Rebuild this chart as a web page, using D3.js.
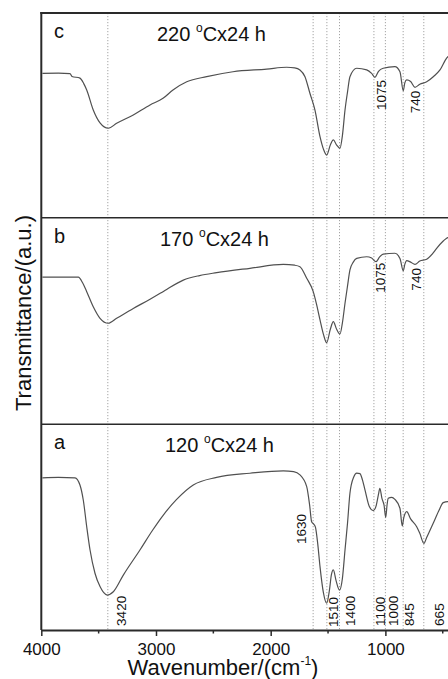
<!DOCTYPE html>
<html>
<head>
<meta charset="utf-8">
<script src="https://cdn.jsdelivr.net/npm/d3@7"></script>
<style>
  html, body { margin: 0; padding: 0; background: #fff; overflow: hidden; }
  svg { display: block; font-family: Arial, "Liberation Sans", sans-serif; }
</style>
</head>
<body>
<div id="chart-area"></div>
<script>
// spectra: [wavenumber, transmittance in % of panel height]
const spectrumA = [
  [3990, 74.0], [3850, 74.2], [3706, 74.0], [3663, 70.5], [3634, 63.2], [3604, 50.2],
  [3575, 38.9], [3532, 27.6], [3488, 21.1], [3425, 17.0], [3372, 18.6], [3285, 26.7],
  [3140, 38.9], [3030, 48.5], [2936, 55.9], [2820, 63.5], [2675, 70.5], [2471, 74.2],
  [2181, 76.2], [1890, 77.4], [1800, 77.0], [1745, 75.4], [1686, 69.7], [1660, 60.5],
  [1643, 52.6], [1625, 51.5], [1610, 50.0], [1590, 42.0], [1570, 30.8], [1540, 18.0],
  [1512, 13.0], [1490, 18.5], [1470, 27.0], [1454, 29.2], [1430, 24.0], [1400, 19.4],
  [1375, 25.0], [1352, 38.9], [1330, 52.0], [1309, 66.5], [1275, 74.5], [1250, 76.3],
  [1222, 76.0], [1200, 73.0], [1178, 68.1], [1140, 60.0], [1106, 58.0], [1080, 60.5],
  [1060, 66.0], [1048, 68.9], [1030, 64.0], [1012, 60.8], [997, 54.8], [985, 61.0],
  [975, 64.0], [945, 64.5], [917, 63.5], [873, 59.2], [853, 50.6], [840, 54.5],
  [814, 57.5], [780, 54.0], [727, 50.2], [700, 47.0], [664, 42.1], [640, 45.0],
  [583, 51.9], [530, 58.5], [496, 61.9], [455, 62.4], [400, 61.5]
];

const spectrumB = [
  [3990, 71.2], [3800, 71.2], [3677, 71.2], [3640, 68.5], [3604, 64.2], [3547, 56.9],
  [3488, 51.3], [3416, 48.9], [3343, 51.3], [3198, 56.1], [3052, 60.5], [2960, 63.5],
  [2907, 65.3], [2762, 69.8], [2620, 72.0], [2471, 73.4], [2181, 75.5], [1890, 77.4],
  [1790, 77.0], [1745, 76.3], [1686, 70.7], [1629, 64.2], [1600, 58.0], [1570, 50.5],
  [1540, 43.5], [1512, 39.5], [1480, 46.0], [1454, 49.7], [1425, 46.0], [1396, 43.7],
  [1375, 49.0], [1352, 58.6], [1330, 67.0], [1309, 74.7], [1280, 78.5], [1250, 80.3],
  [1163, 81.1], [1120, 80.5], [1082, 78.7], [1050, 81.0], [1019, 82.4], [917, 82.8],
  [873, 80.3], [844, 74.3], [830, 77.5], [814, 79.2], [780, 78.5], [742, 77.4],
  [700, 79.0], [640, 79.9], [590, 82.5], [553, 85.2], [500, 88.5], [466, 90.0], [400, 92.0]
];

const spectrumC = [
  [3990, 70.5], [3850, 70.6], [3750, 70.4], [3732, 69.0], [3663, 68.2], [3630, 65.5],
  [3604, 62.4], [3547, 52.6], [3488, 46.3], [3416, 43.7], [3343, 46.1], [3198, 50.2],
  [3052, 55.1], [2939, 58.3], [2852, 62.4], [2732, 66.4], [2558, 68.9], [2329, 71.3],
  [2035, 72.6], [1861, 73.5], [1790, 73.2], [1745, 72.2], [1701, 68.9], [1658, 60.8],
  [1614, 52.6], [1570, 39.6], [1540, 33.5], [1512, 30.6], [1480, 35.5], [1454, 38.0],
  [1425, 35.5], [1396, 33.9], [1375, 40.0], [1352, 52.6], [1330, 61.5], [1309, 68.9],
  [1250, 73.0], [1163, 72.2], [1120, 70.5], [1091, 68.6], [1060, 71.5], [1019, 73.0],
  [917, 73.8], [873, 71.3], [844, 62.0], [830, 66.0], [814, 67.3], [780, 66.5],
  [742, 63.7], [700, 65.2], [640, 66.4], [580, 69.0], [524, 72.2], [466, 78.0], [400, 80.5]
];

const panelLetters = ['a', 'b', 'c'];
const panelTemps = ['120', '170', '220'];

// dotted reference lines (cm-1)
const bandLines = [3420, 1630, 1510, 1400, 1100, 1000, 845, 665];

// band labels: text, panel, wavenumber of label centre, transmittance at label start
const bandLabels = [
  {text: '3420', panel: 0, wn: 3299, t: 2},
  {text: '1630', panel: 0, wn: 1736, t: 41.8},
  {text: '1510', panel: 0, wn: 1457, t: 1.5},
  {text: '1400', panel: 0, wn: 1309, t: 2},
  {text: '1100', panel: 0, wn: 1047, t: 2},
  {text: '1000', panel: 0, wn: 934, t: 2},
  {text: '845', panel: 0, wn: 790, t: 2},
  {text: '665', panel: 0, wn: 533, t: 2},
  {text: '1075', panel: 1, wn: 1043, t: 63.7},
  {text: '740', panel: 1, wn: 733, t: 64.7},
  {text: '1075', panel: 2, wn: 1038, t: 52.6},
  {text: '740', panel: 2, wn: 742, t: 51.0}
];

const majorTicks = [4000, 3000, 2000, 1000];
const minorTicks = [3500, 2500, 1500, 500];

const W = 448, H = 679;
const plotLeft = 41.3, plotRight = 454.2;
const panelEdges = [630, 424.3, 217.7, 13]; // bottom of a, a/b, b/c, top of c
const titleStart = [165, 160, 157];
const frameColor = '#2a2a2a';

const svg = d3.select('#chart-area').append('svg')
  .attr('width', W)
  .attr('height', H);

const x = d3.scaleLinear()
  .domain([4000, 400])
  .range([plotLeft, plotRight]);

const panelY = panelLetters.map((p, i) => d3.scaleLinear()
  .domain([0, 100])
  .range([panelEdges[i], panelEdges[i + 1]]));

// dotted band lines through all panels
svg.append('g').selectAll('line')
  .data(bandLines)
  .join('line')
  .attr('x1', d => x(d))
  .attr('x2', d => x(d))
  .attr('y1', panelEdges[3])
  .attr('y2', panelEdges[0])
  .attr('stroke', '#9a9a9a')
  .attr('stroke-width', 0.9)
  .attr('stroke-dasharray', '1.2,1.8');

// spectra
const spectra = [spectrumA, spectrumB, spectrumC];
spectra.forEach((spec, i) => {
  const line = d3.line()
    .x(d => x(d[0]))
    .y(d => panelY[i](d[1]))
    .curve(d3.curveMonotoneX);

  svg.append('path')
    .datum(spec)
    .attr('d', line)
    .attr('fill', 'none')
    .attr('stroke', '#505050')
    .attr('stroke-width', 1.2);
});

// frame
svg.append('line')
  .attr('x1', plotLeft).attr('x2', plotLeft)
  .attr('y1', panelEdges[3] - 1).attr('y2', panelEdges[0])
  .attr('stroke', frameColor).attr('stroke-width', 2);

svg.append('line')
  .attr('x1', plotLeft - 1).attr('x2', plotRight)
  .attr('y1', panelEdges[3]).attr('y2', panelEdges[3])
  .attr('stroke', frameColor).attr('stroke-width', 2);

[panelEdges[1], panelEdges[2]].forEach(yy => {
  svg.append('line')
    .attr('x1', plotLeft).attr('x2', plotRight)
    .attr('y1', yy).attr('y2', yy)
    .attr('stroke', frameColor).attr('stroke-width', 1.6);
});

// x axis
const xAxisGroup = svg.append('g')
  .attr('transform', `translate(0, ${panelEdges[0]})`);

xAxisGroup.call(d3.axisBottom(x)
  .tickValues(majorTicks)
  .tickSize(6)
  .tickSizeOuter(0)
  .tickPadding(7)
  .tickFormat(d3.format('d')));

xAxisGroup.select('.domain')
  .attr('stroke', frameColor)
  .attr('stroke-width', 2);
xAxisGroup.selectAll('.tick line')
  .attr('stroke', frameColor)
  .attr('stroke-width', 1.5);
xAxisGroup.selectAll('.tick text')
  .attr('font-family', 'Arial, "Liberation Sans", sans-serif')
  .attr('font-size', 17)
  .attr('fill', '#111');

xAxisGroup.selectAll('.minor')
  .data(minorTicks)
  .join('line')
  .attr('class', 'minor')
  .attr('x1', d => x(d))
  .attr('x2', d => x(d))
  .attr('y1', 0)
  .attr('y2', 3.5)
  .attr('stroke', frameColor)
  .attr('stroke-width', 1.5);

// band labels
svg.append('g').selectAll('text')
  .data(bandLabels)
  .join('text')
  .attr('transform', d => `translate(${x(d.wn)}, ${panelY[d.panel](d.t)}) rotate(-90)`)
  .attr('dy', '0.35em')
  .attr('text-anchor', 'start')
  .attr('font-size', 13.5)
  .attr('fill', '#111')
  .text(d => d.text);

// panel letters and titles
panelLetters.forEach((p, i) => {
  const top = panelEdges[i + 1];

  svg.append('text')
    .attr('x', 54)
    .attr('y', top + 25)
    .attr('font-size', 20)
    .attr('fill', '#111')
    .text(p);

  const title = svg.append('text')
    .attr('x', titleStart[i])
    .attr('y', top + 28)
    .attr('font-size', 20)
    .attr('fill', '#111');
  title.append('tspan').text(panelTemps[i] + ' ');
  title.append('tspan').attr('font-size', 12).attr('dy', -9).text('o');
  title.append('tspan').attr('dy', 9).text('Cx24 h');
});

// axis titles
svg.append('text')
  .attr('transform', 'translate(31, 313) rotate(-90)')
  .attr('text-anchor', 'middle')
  .attr('font-size', 22)
  .attr('fill', '#111')
  .text('Transmittance/(a.u.)');

const xTitle = svg.append('text')
  .attr('x', 223)
  .attr('y', 674.5)
  .attr('text-anchor', 'middle')
  .attr('font-size', 22)
  .attr('fill', '#111');
xTitle.append('tspan').text('Wavenumber/(cm');
xTitle.append('tspan').attr('font-size', 12).attr('dy', -10).text('-1');
xTitle.append('tspan').attr('dy', 10).text(')');
</script>
</body>
</html>
